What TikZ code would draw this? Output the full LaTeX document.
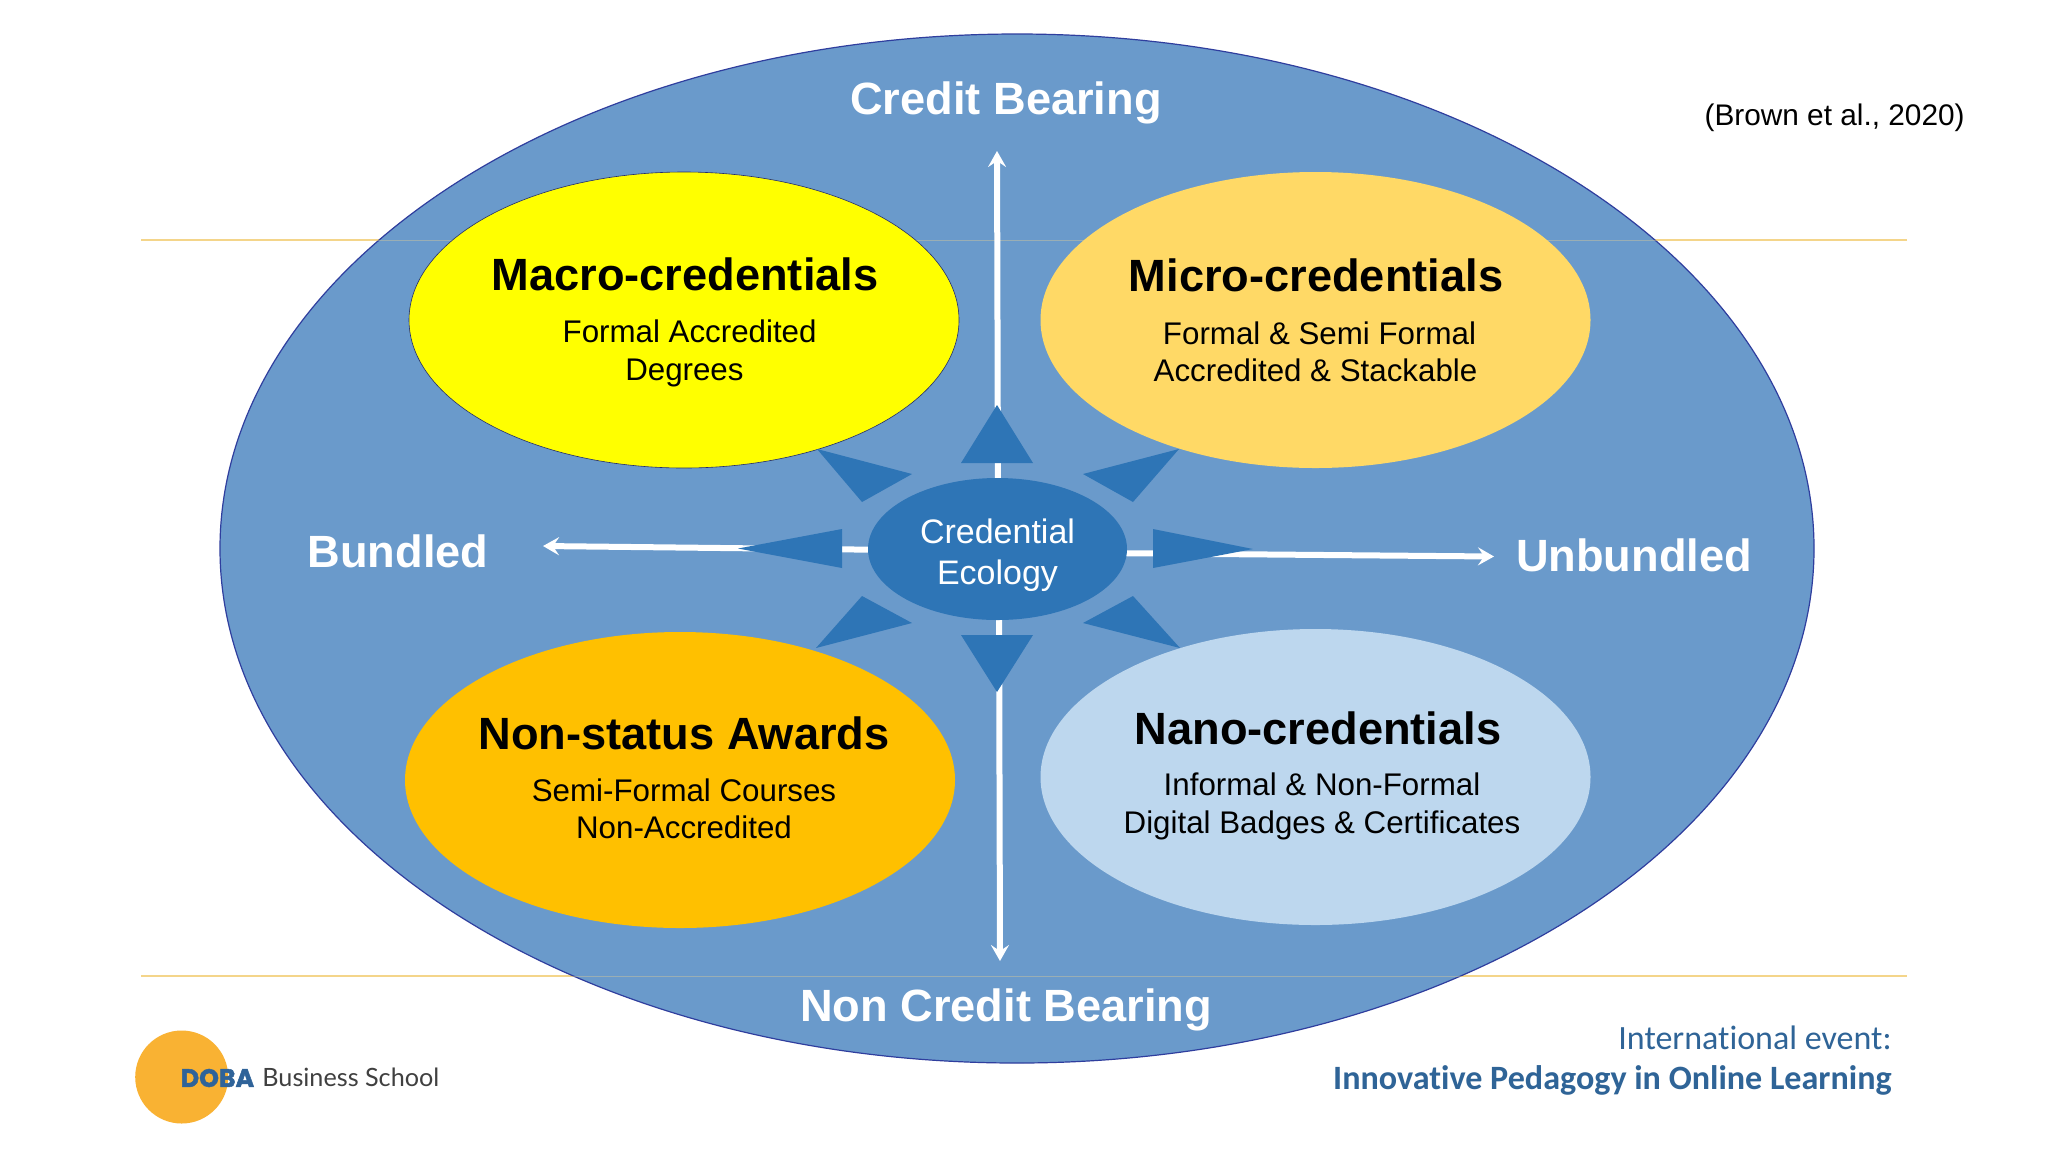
\documentclass[tikz,border=0pt]{standalone}
\usepackage{fontspec}
\setmainfont{Liberation Sans}
\newfontfamily\carl[RawFeature={-liga;-clig;-dlig}]{Carlito}
\newfontfamily\lato{Lato}
\newfontfamily\doba[BoldFeatures={FakeBold=2}]{Poppins}
\definecolor{bigblue}{HTML}{6A9ACB}
\definecolor{darkblue}{HTML}{2E75B6}
\definecolor{rim}{HTML}{2F3E9E}
\definecolor{lineor}{HTML}{F4D58A}
\definecolor{macro}{HTML}{FFFF00}
\definecolor{micro}{HTML}{FFD966}
\definecolor{nonst}{HTML}{FFC000}
\definecolor{nano}{HTML}{BDD7EE}
\definecolor{logoor}{HTML}{F9B233}
\definecolor{logobl}{HTML}{2F6399}
\definecolor{evt}{HTML}{2F6497}
\newcommand{\fs}[1]{\fontsize{#1}{#1}\selectfont}
\usetikzlibrary{arrows.meta}
\tikzset{
 x=0.5pt,y=-0.5pt,
 head/.style={fill=darkblue,draw=none},
 whiteline/.style={draw=white,line width=3pt,-{Stealth[length=8pt,width=9pt,inset=3pt]}},
 axis/.style={text=white,font=\bfseries\fs{22.6},inner sep=0pt},
 ctitle/.style={text=black,font=\bfseries\fs{22.6},inner sep=0pt,align=center},
 csub/.style={text=black,font=\fs{15.65},inner sep=0pt,align=center},
}
\begin{document}
\begin{tikzpicture}
\useasboundingbox (0,0) rectangle (2048,1152);
\fill[white] (0,0) rectangle (2048,1152);
\coordinate (ruleTL) at (141,240); \coordinate (ruleTR) at (1907,240);
\coordinate (ruleBL) at (141,976); \coordinate (ruleBR) at (1907,976);
\draw[lineor,line width=0.6pt] (ruleTL) -- (ruleTR);
\draw[lineor,line width=0.6pt] (ruleBL) -- (ruleBR);
\filldraw[fill=bigblue,draw=rim,line width=0.6pt] (1017,548.5) ellipse [x radius=797,y radius=514.5];
\draw[lineor,line width=0.3pt,opacity=.35] (ruleTL) -- (ruleTR);
\draw[lineor,line width=0.3pt,opacity=.35] (ruleBL) -- (ruleBR);
% ovals
\filldraw[fill=macro,draw=rim!70!black,line width=0.3pt] (684,320) ellipse [x radius=275,y radius=148];
\fill[micro] (1315.5,320) ellipse [x radius=275,y radius=148];
\fill[nonst] (680,780) ellipse [x radius=275,y radius=148];
\fill[nano] (1315.5,777) ellipse [x radius=275,y radius=148];
% connector ends
\coordinate (upEnd) at (997,151);
\coordinate (downEnd) at (1000,961);
\coordinate (leftEnd) at (543,546);
\coordinate (rightEnd) at (1494,556.5);
\draw[whiteline] (998,500) -- (upEnd);
\draw[whiteline] (999,600) -- (downEnd);
\draw[whiteline] (900,550) -- (leftEnd);
\draw[whiteline] (1100,553) -- (rightEnd);
% triangles
\fill[head] (997,405) -- (961,463) -- (1033,463) -- cycle;
\fill[head] (997,692) -- (961,635) -- (1033,635) -- cycle;
\fill[head] (738,548.5) -- (842,529) -- (842,568) -- cycle;
\fill[head] (1253,549) -- (1153,529) -- (1153,568) -- cycle;
\fill[head] (817,449) -- (912,474) -- (862,502) -- cycle;
\fill[head] (1179,449) -- (1083,474) -- (1133,502) -- cycle;
\fill[head] (816,648) -- (912,623) -- (862,596) -- cycle;
\fill[head] (1180,648) -- (1083,623) -- (1133,596) -- cycle;
% hub
\fill[darkblue] (997.5,549) ellipse [x radius=129.5,y radius=71];
\node[text=white,font=\fs{17},align=center,inner sep=0pt] (hub) at (997.5,555) {Credential\\[3.5pt]Ecology};
% axis labels
\node[axis] (credit) at (1006,103) {Credit Bearing};
\node[axis] (noncredit) at (1006,1010) {Non Credit Bearing};
\node[axis] (bundled) at (398,551) {Bundled};
\node[axis] (unbundled) at (1634,555) {Unbundled};
% oval text
\node[ctitle] (t1) at (685,274) {Macro-credentials};
\node[csub] (s1) at (687,353.5) {\hspace*{2.6pt}Formal Accredited\\[3.1pt]Degrees\hspace*{2.6pt}};
\node[ctitle] (t2) at (1316,275) {Micro-credentials};
\node[csub] (s2) at (1317.5,352) {\hspace*{2pt}Formal \& Semi Formal\\[3.1pt]Accredited \& Stackable\hspace*{2pt}};
\node[ctitle] (t3) at (684,733) {Non-status Awards};
\node[csub] (s3) at (684,809) {Semi-Formal Courses\\[3.1pt]Non-Accredited};
\node[ctitle] (t4) at (1318,728) {Nano-credentials};
\node[csub] (s4) at (1322,806.5) {Informal \& Non-Formal\\[3.4pt]Digital Badges \& Certificates};
% citation
\node[text=black,font=\fs{14.9},inner sep=0pt,anchor=east] (cite) at (1965,118) {(Brown et al., 2020)};
% logo
\fill[logoor] (181.7,1077) circle [radius=46.5];
\node[text=logobl,font=\doba\bfseries\fs{12.6},inner sep=0pt] (dob) at (217.5,1078) {DOBA};
\node[text=black!75,font=\lato\fs{12.6},inner sep=0pt,anchor=west] (biz) at (262,1077) {Business School};
% event
\node[text=evt,font=\carl\fs{17},inner sep=0pt,anchor=east] (ev1) at (1892,1038) {International event:};
\node[text=evt,font=\carl\bfseries\fs{17.05},inner sep=0pt,anchor=east] (ev2) at (1892,1080) {Innovative Pedagogy in Online Learning};
\end{tikzpicture}
\end{document}
